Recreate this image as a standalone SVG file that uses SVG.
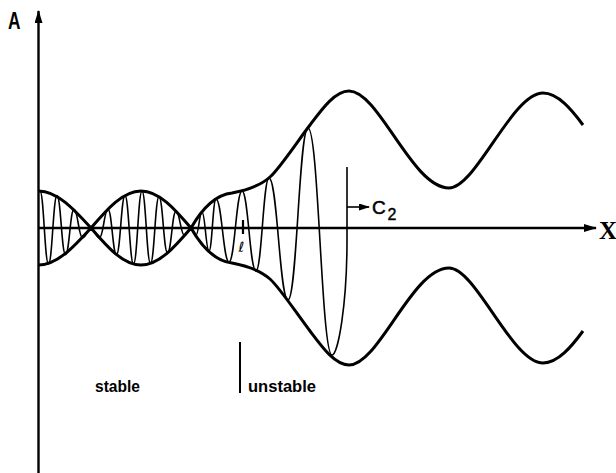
<svg xmlns="http://www.w3.org/2000/svg" xmlns:xlink="http://www.w3.org/1999/xlink" width="616" height="473" viewBox="0 0 616 473">
<style>
.ax{stroke:#000;stroke-width:2.4;fill:none}
.env{stroke:#000;stroke-width:3;fill:none;stroke-linejoin:round}
.car{stroke:#000;stroke-width:1.6;fill:none}
.lbl{font-family:"Liberation Sans",Arial,sans-serif;fill:#000}
</style>
<defs>
<marker id="ah" viewBox="0 0 13 8" refX="12" refY="4" markerWidth="13" markerHeight="8" markerUnits="userSpaceOnUse" orient="auto"><path d="M0,0 L13,4 L0,8 z" fill="#000"/></marker>
<marker id="ahs" viewBox="0 0 11 7" refX="10" refY="3.5" markerWidth="11" markerHeight="7" markerUnits="userSpaceOnUse" orient="auto"><path d="M0,0 L11,3.5 L0,7 z" fill="#000"/></marker>
</defs>
<g id="axes">
<line class="ax" x1="38.5" y1="473" x2="38.5" y2="11" marker-end="url(#ah)"/>
<line class="ax" x1="38.5" y1="228" x2="596" y2="228" marker-end="url(#ah)"/>
</g>
<g id="envelope">
<path id="envU" class="env" d="M38.5,191 C57.2,191 73.7,209 91,228 C107.3,209 122.9,191 141,191 C159.1,191 174.7,209 191,228 C199,214 213,195 232,193 C248,190 260,186 270,177 C280,168 297,142 310,125 C322,109 335,91 349,91 C379,91 412,188 449,188 C476,188 512,93 543,93 C558,93 572,110 583,125"/>
<use xlink:href="#envU" href="#envU" transform="matrix(1 0 0 -1 0 456)"/>
</g>
<g id="carrier">
<path class="car" d="M40,191 C43.8,191 44.7,264 48.5,264 C52.3,264 53.2,195.6 57,195.6 C60.8,195.6 61.7,254.6 65.5,254.6 C69.3,254.6 70.2,209.2 74,209.2 C77.8,209.2 78.7,237.8 82.5,237.8 C86.3,237.8 87.2,228 91,228 C94.8,228 95.7,237.8 99.5,237.8 C103.3,237.8 104.2,209.2 108,209.2 C111.8,209.2 112.7,254.6 116.5,254.6 C120.3,254.6 121.2,195.6 125,195.6 C128.8,195.6 129.7,264 133.5,264 C137.3,264 138.2,191 142,191 C145.8,191 146.7,263.4 150.5,263.4 C154.3,263.4 155.2,196.8 159,196.8 C162.8,196.8 163.7,252.9 167.5,252.9 C171.3,252.9 172.2,211.2 176,211.2 C179.8,211.2 180.7,235.5 184.5,235.5 C187.4,235.5 188.1,228 191,228 C193.2,228 193.8,235 196,235 C198.7,235 199.3,212 202,212 C205.1,212 205.9,251 209,251 C212.1,251 212.9,199 216,199 C221.8,199 223.2,262 229,262 C234.8,262 236.2,191 242,191 C248.3,191 249.7,271 256,271 C261.8,271 263.2,178 269,178 C277.5,178 279.5,300 288,300 C297,300 299,128 308,128 C318.8,128 321.2,355 332,355 C338,355 347,305 347,240 L347,167"/>
</g>
<g id="c2">
<line class="car" x1="347" y1="207" x2="369" y2="207" stroke-width="1.8" marker-end="url(#ahs)"/>
<text class="lbl" x="372" y="213.5" font-size="19" stroke="#000" stroke-width="0.5">C</text>
<text class="lbl" x="387.5" y="220" font-size="16" stroke="#000" stroke-width="0.4">2</text>
</g>
<g id="labels">
<text class="lbl" x="8" y="29" font-size="23" font-weight="bold" textLength="12.5" lengthAdjust="spacingAndGlyphs">A</text>
<text x="599" y="239" font-family="Liberation Serif,serif" font-weight="bold" font-size="25" fill="#000">X</text>
<line x1="243" y1="220" x2="243" y2="234" stroke="#000" stroke-width="2.2"/>
<text x="238.5" y="252" font-family="DejaVu Sans,sans-serif" font-size="14" fill="#000">ℓ</text>
<line x1="240" y1="342" x2="240" y2="393" stroke="#000" stroke-width="2"/>
<text class="lbl" x="95" y="392" font-size="16" font-weight="bold" textLength="45" lengthAdjust="spacingAndGlyphs">stable</text>
<text class="lbl" x="248" y="392" font-size="16" font-weight="bold" textLength="68" lengthAdjust="spacingAndGlyphs">unstable</text>
</g>
</svg>
